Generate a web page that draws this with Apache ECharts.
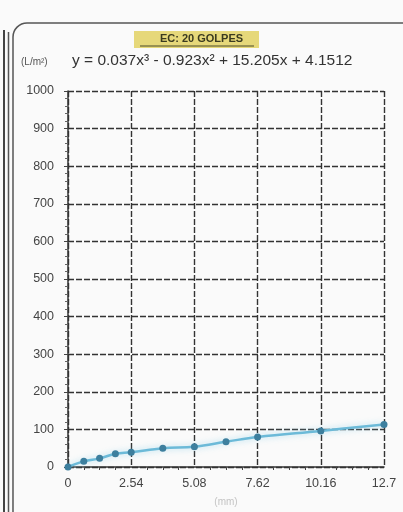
<!DOCTYPE html>
<html><head><meta charset="utf-8">
<script src="https://cdn.jsdelivr.net/npm/echarts@6/dist/echarts.min.js"></script>
<style>html,body{margin:0;padding:0;background:#fafafa}#c{width:403px;height:512px}</style>
</head><body><div id="c"></div>
<script>
// Data
const xValues = [0, 0.635, 1.27, 1.905, 2.54, 3.81, 5.08, 6.35, 7.62, 10.16, 12.7];
const yValues = [0, 15, 23, 35, 39, 50, 54, 67, 80, 96, 113];
const xTickLabels = ['0', '2.54', '5.08', '7.62', '10.16', '12.7'];
const yTickLabels = ['0','100','200','300','400','500','600','700','800','900','1000'];
const titleText = 'EC: 20 GOLPES';
const unitText = '(L/m²)';
const equationText = 'y = 0.037x³ - 0.923x² + 15.205x + 4.1512';

const font = "'Liberation Sans',Arial,sans-serif";
const chart = echarts.init(document.getElementById('c'));
chart.setOption({
  backgroundColor: '#fafafa',
  animation: false,
  graphic: [
    {type:'line', shape:{x1:4,y1:30,x2:4,y2:512}, style:{stroke:'#444',lineWidth:2}},
    {type:'line', shape:{x1:8.5,y1:32,x2:8.5,y2:512}, style:{stroke:'#555',lineWidth:1.5}},
    {type:'rect', shape:{x:13,y:23,width:420,height:520,r:14}, style:{fill:'none',stroke:'#555',lineWidth:1.5}},
    {type:'rect', shape:{x:134,y:31,width:125,height:17}, style:{fill:'#e6d87a'}},
    {type:'text', left:'center', top:33, style:{text:titleText, font:"bold 11px "+font, fill:'#3a3a20'}},
    {type:'line', shape:{x1:140,y1:46,x2:254,y2:46}, style:{stroke:'#4a4a2a',lineWidth:1}},
    {type:'text', x:21, y:57, style:{text:unitText, font:"10px "+font, fill:'#555'}},
    {type:'text', x:72, y:53, style:{text:equationText, font:"15.5px "+font, fill:'#333'}}
  ],
  grid: {left:68, right:19, top:91, bottom:37, containLabel:false},
  xAxis: {
    type:'value', min:0, max:12.7, interval:2.54,
    name:'(mm)', nameLocation:'middle', nameGap:30,
    nameTextStyle:{color:'#c4c4c4', fontSize:10, fontFamily:font},
    axisLine:{show:true, lineStyle:{color:'#333', width:1.5}},
    axisTick:{show:false},
    minorTick:{show:true, splitNumber:4, length:3, lineStyle:{color:'#444'}},
    axisLabel:{color:'#444', fontSize:12.5, fontFamily:font, margin:10,
      formatter:(v)=>xTickLabels[Math.round(v/2.54)]},
    splitLine:{show:true, lineStyle:{color:'#333', width:1.4, type:[6,2]}}
  },
  yAxis: {
    type:'value', min:0, max:1000, interval:100,
    axisLine:{show:true, lineStyle:{color:'#333', width:1.5}},
    axisTick:{show:true, length:4, lineStyle:{color:'#444'}},
    minorTick:{show:true, splitNumber:5, length:3, lineStyle:{color:'#666'}},
    axisLabel:{color:'#444', fontSize:12.5, fontFamily:font, margin:14,
      formatter:(v)=>yTickLabels[Math.round(v/100)]},
    splitLine:{show:true, lineStyle:{color:'#333', width:1.4, type:[6,2]}}
  },
  series: [{
    type:'line',
    data: xValues.map((x,i)=>[x, yValues[i]]),
    smooth: 0.4,
    symbol:'circle', symbolSize:7,
    itemStyle:{color:'#3d7f9e'},
    lineStyle:{color:'#6cbad8', width:2.5, shadowColor:'rgba(140,210,235,0.7)', shadowBlur:6}
  }]
});
</script></body></html>
